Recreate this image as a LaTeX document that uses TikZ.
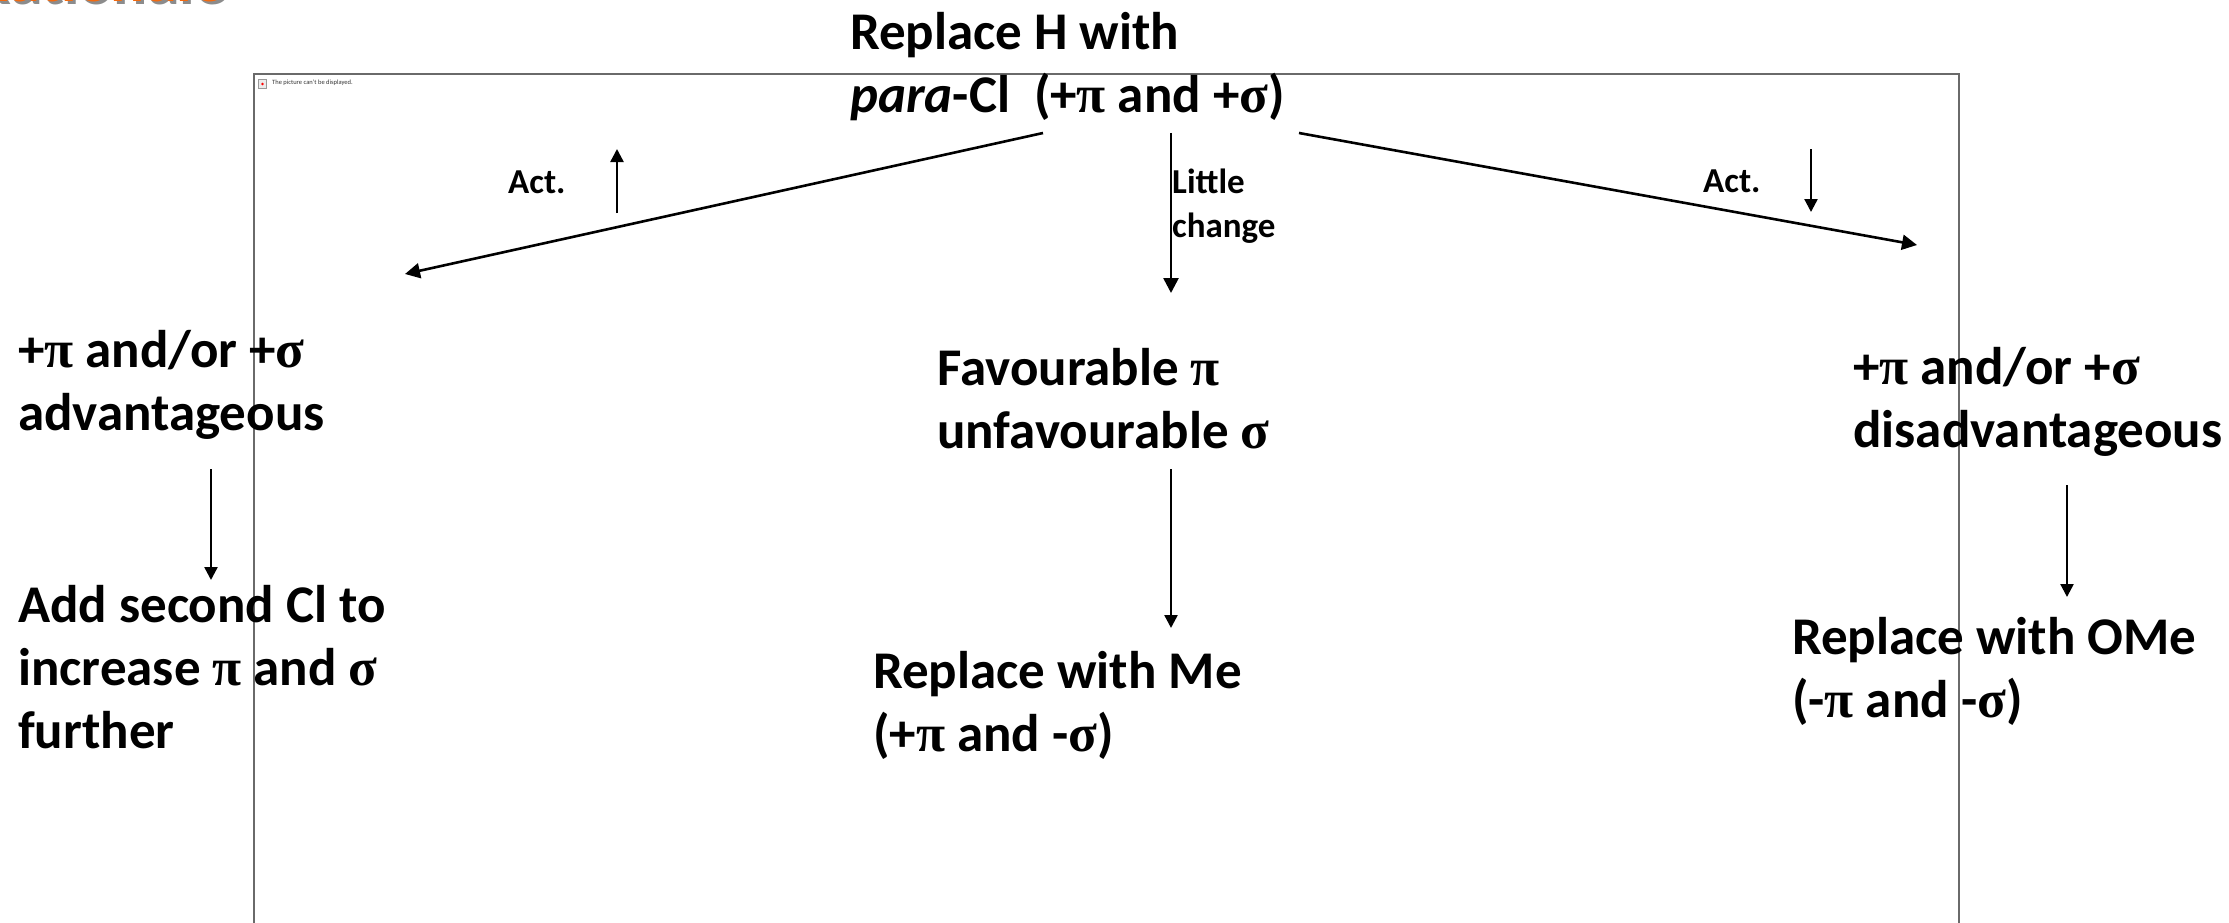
\documentclass[tikz,border=0pt]{standalone}
\usepackage{fontspec}
\setmainfont{Carlito}
\newfontfamily\grkfont{Liberation Serif}
\usetikzlibrary{arrows.meta}
\definecolor{frame-grey}{HTML}{6A6A6A}
\definecolor{title-orange}{HTML}{F36A10}
\newcommand{\gpi}{{\grkfont\bfseries π}}
\newcommand{\gsig}{{\grkfont\bfseries σ}}

\begin{document}
\begin{tikzpicture}[x=1pt, y=-1pt,
    every node/.style={inner sep=0pt},
    big/.style={font=\fontsize{53}{63}\selectfont\bfseries, align=left, anchor=base west},
    small/.style={font=\fontsize{35}{44}\selectfont\bfseries, align=left, anchor=base west},
    arr/.style={-{Triangle[length=15pt, width=15pt]}, line width=2.6pt},
    tick/.style={-{Triangle[length=13pt, width=13pt]}, line width=2.4pt}]
  \useasboundingbox (0,0) rectangle (2229,923);
  \clip (0,0) rectangle (2229,923);
  % cut-off title and the empty picture frame
  \node[anchor=base east, text=black!45, font=\fontsize{64}{64}\selectfont\bfseries]
      at (228,5) {Rationale};
  \node[anchor=base east, text=title-orange, font=\fontsize{64}{64}\selectfont\bfseries]
      (title) at (225,2) {Rationale};
  \draw[frame-grey, line width=1.6pt] (254,74) rectangle (1959,960);
  \draw[black!40, fill=black!8] (258,79) rectangle (266,88);
  \fill[red] (262.5,84) circle (1.3);
  \node[anchor=base west, font=\fontsize{6.5}{7}\selectfont, text=black!80]
      (noPic) at (272,85) {The picture can't be displayed.};
  % texts (base = last line)
  \node[big] (repH) at (850,113) {Replace H with\\\textit{para}-Cl~ (+\gpi{} and +\gsig)};
  \node[small] (actL) at (508,193) {Act.};
  \node[small] (actR) at (1703,192) {Act.};
  \node[small] (little) at (1172,237) {Little\\change};
  \node[big] (advL) at (18,430) {+\gpi{} and/or +\gsig\\advantageous};
  \node[big] (addCl) at (18,748) {Add second Cl to\\increase \gpi{} and \gsig\\further};
  \node[big] (favM) at (937,448) {Favourable \gpi\\unfavourable \gsig};
  \node[big] (repMe) at (873,751) {Replace with Me\\(+\gpi{} and -\gsig)};
  \node[big] (disR) at (1853,447) {+\gpi{} and/or +\gsig\\disadvantageous};
  \node[big] (repOMe) at (1792,717) {Replace with OMe\\(-\gpi{} and -\gsig)};
  % arrow ends
  \coordinate (lStart) at (1043,133);
  \coordinate (lEnd) at (405,274);
  \coordinate (mStart) at (1171,133);
  \coordinate (mEnd) at (1171,293);
  \coordinate (rStart) at (1299,133);
  \coordinate (rEnd) at (1917,245);
  \coordinate (upA) at (617,213);
  \coordinate (upB) at (617,149);
  \coordinate (dnA) at (1811,149);
  \coordinate (dnB) at (1811,212);
  \coordinate (lDownA) at (211,469);
  \coordinate (lDownB) at (211,580);
  \coordinate (mDownA) at (1171,469);
  \coordinate (mDownB) at (1171,628);
  \coordinate (rDownA) at (2067,485);
  \coordinate (rDownB) at (2067,597);
  \draw[arr] (lStart) -- (lEnd);
  \draw[arr] (mStart) -- (mEnd);
  \draw[arr] (rStart) -- (rEnd);
  \draw[tick] (upA) -- (upB);
  \draw[tick] (dnA) -- (dnB);
  \draw[tick] (lDownA) -- (lDownB);
  \draw[tick] (mDownA) -- (mDownB);
  \draw[tick] (rDownA) -- (rDownB);
\end{tikzpicture}
\end{document}
